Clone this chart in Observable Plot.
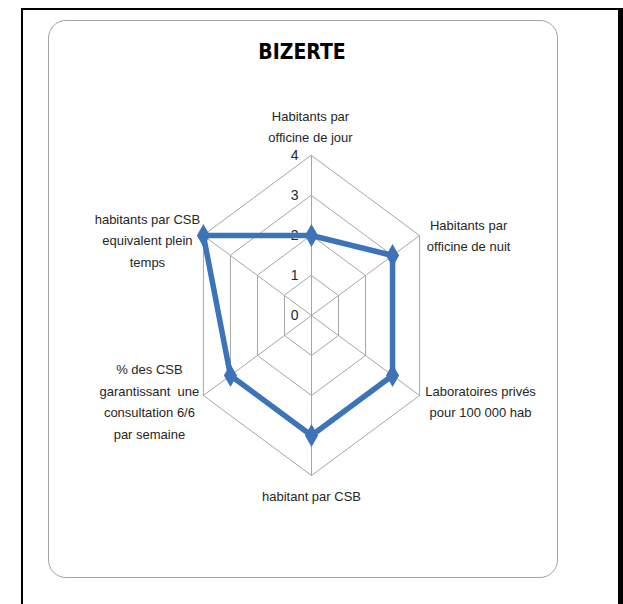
<!DOCTYPE html>
<html>
<head>
<meta charset="utf-8">
<script src="https://cdn.jsdelivr.net/npm/d3@7"></script>
<script src="https://cdn.jsdelivr.net/npm/@observablehq/plot@0.6"></script>
<style>
  html, body { margin: 0; padding: 0; background: #fff; }
  #wrap { position: relative; width: 623px; height: 604px; overflow: hidden; }
  .b { position: absolute; background: #000; }
  #card { position: absolute; left: 48px; top: 20px; width: 508px; height: 556px;
          border: 1.5px solid #a3a3a3; border-radius: 18px; box-sizing: content-box; }
  #chart { position: absolute; left: 0; top: 0; }
  #chart svg { background: transparent; }
</style>
</head>
<body>
<div id="wrap">
  <div class="b" style="left:21px;top:8px;width:597px;height:2px"></div>
  <div class="b" style="left:21px;top:8px;width:2px;height:596px"></div>
  <div class="b" style="left:618px;top:8px;width:5px;height:596px"></div>
  <div id="card"></div>
  <div id="chart"></div>
</div>
<script>
const title = "BIZERTE";
const categories = [
  "Habitants par\nofficine de jour",
  "Habitants par\nofficine de nuit",
  "Laboratoires privés\npour 100 000 hab",
  "habitant par CSB",
  "% des CSB\ngarantissant  une\nconsultation 6/6\npar semaine",
  "habitants par CSB\nequivalent plein\ntemps"
];
const values = [2, 3, 3, 3, 3, 4];
const ticks = [0, 1, 2, 3, 4];
const maxLevel = 4;

const n = categories.length;
const ang = i => (i * 2 * Math.PI) / n;
const px = (r, i) => r * Math.sin(ang(i));
const py = (r, i) => r * Math.cos(ang(i));

const gridRows = ticks.flatMap(t => categories.map((c, i) => ({level: t, x: px(t, i), y: py(t, i)})));
const spokeRows = categories.flatMap((c, i) => [
  {i, x: 0, y: 0}, {i, x: px(maxLevel, i), y: py(maxLevel, i)}
]);
const seriesRows = values.map((v, i) => ({cat: categories[i], v, x: px(v, i), y: py(v, i)}));
const tickRows = ticks.map(t => ({t, x: 0, y: t}));

// label offsets (pixels) relative to the outer vertex of each axis
const labelOffsets = [[-1, -31], [49, -2], [61, 4], [0, 19], [-54, 4], [-56, 3]];

const font = "'Liberation Sans', Arial, sans-serif";
const W = 623, H = 604, cx = 311, cy = 315, pxX = 31.2, pxY = 40;

const labelMarks = categories.map((c, i) =>
  Plot.text([{c, x: px(maxLevel, i), y: py(maxLevel, i)}], {
    x: "x", y: "y", text: "c",
    dx: labelOffsets[i][0], dy: labelOffsets[i][1],
    textAnchor: "middle", lineAnchor: "middle", lineHeight: 1.65,
    fontSize: 13, fill: "#262626"
  })
);

const chart = Plot.plot({
  width: W, height: H,
  marginLeft: 0, marginRight: 0, marginTop: 0, marginBottom: 0,
  x: {type: "linear", domain: [-cx / pxX, (W - cx) / pxX], range: [0, W], axis: null},
  y: {type: "linear", domain: [-(H - cy) / pxY, cy / pxY], range: [H, 0], axis: null},
  style: {fontFamily: font, background: "transparent"},
  marks: [
    Plot.line(gridRows.filter(d => d.level > 0), {x: "x", y: "y", z: "level", curve: "linear-closed", stroke: "#a6a6a6", strokeWidth: 1}),
    Plot.line(spokeRows, {x: "x", y: "y", z: "i", stroke: "#a6a6a6", strokeWidth: 1}),
    Plot.text(tickRows, {x: "x", y: "y", text: d => String(d.t), dx: -13, textAnchor: "end", lineAnchor: "middle", fontSize: 14, fill: "#262626"}),
    Plot.line(seriesRows, {x: "x", y: "y", curve: "linear-closed", stroke: "#3d73b8", strokeWidth: 5.5, strokeLinejoin: "round"}),
    Plot.dot(seriesRows, {x: "x", y: "y", symbol: "diamond", r: 6, fill: "#3d73b8", stroke: "#3d73b8"}),
    ...labelMarks,
    Plot.text([title], {frameAnchor: "top", dx: -10, dy: 44, text: d => d, fontSize: 21, fontWeight: "bold", fill: "#000", lineAnchor: "top", fontFamily: "'DejaVu Sans Condensed', 'DejaVu Sans', sans-serif"})
  ]
});
document.getElementById("chart").appendChild(chart);
</script>
</body>
</html>
